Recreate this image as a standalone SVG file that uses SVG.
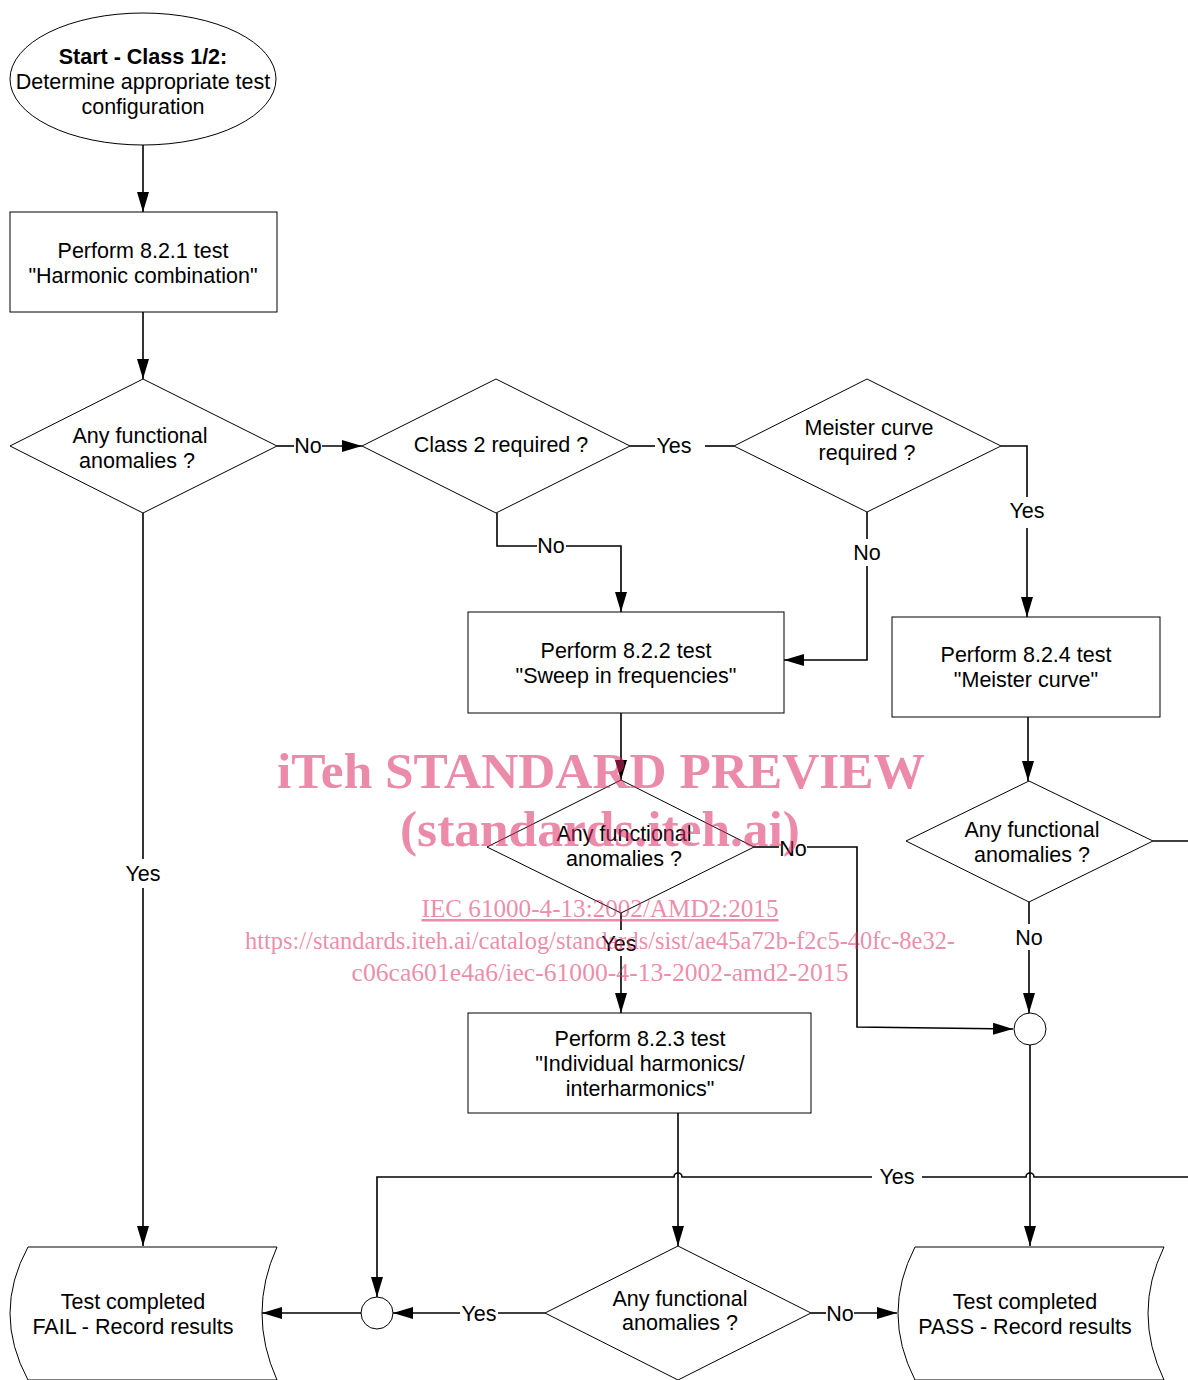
<svg xmlns="http://www.w3.org/2000/svg" width="1188" height="1380" viewBox="0 0 1188 1380">
<defs>
<marker id="arr" markerWidth="20" markerHeight="12" refX="20" refY="6" orient="auto" markerUnits="userSpaceOnUse"><path d="M0,0 L20,6 L0,12 z" fill="#000"/></marker>
<style>
.shape{fill:#fff;stroke:#000;stroke-width:1}
.t{font-family:"Liberation Sans",Arial,sans-serif;font-size:21.5px;fill:#000;text-anchor:middle}
.b{font-weight:bold}
.c{fill:none;stroke:#000;stroke-width:1.6}
.ca{fill:none;stroke:#000;stroke-width:1.6;marker-end:url(#arr)}
.wm{font-family:"Liberation Serif","Times New Roman",serif;fill:#dc2a64;fill-opacity:0.55;text-anchor:middle}
</style>
</defs>
<rect width="1188" height="1380" fill="#fff"/>

<g id="connectors">
<path class="ca" d="M143,145 V212"/>
<path class="ca" d="M143,312 V379"/>
<path class="c" d="M277,446 H294"/>
<path class="ca" d="M322,446 H362"/>
<path class="c" d="M630,446 H655"/>
<path class="c" d="M705,446 H734"/>
<path class="c" d="M1001,446 H1027 V497"/>
<path class="ca" d="M1027,528 V617"/>
<path class="c" d="M867,512 V539"/>
<path class="ca" d="M867,566 V660 H784"/>
<path class="c" d="M497,513 V546 H537"/>
<path class="ca" d="M566,546 H621 V612"/>
<path class="ca" d="M621,713 V780"/>
<path class="c" d="M754,847 H779"/>
<path class="ca" d="M807,847 H857 V1027 L1013,1029"/>
<path class="c" d="M621,913 V930"/>
<path class="ca" d="M621,956 V1013"/>
<path class="ca" d="M1028,717 V781"/>
<path class="c" d="M1153,841 H1188"/>
<path class="c" d="M1029,902 V924"/>
<path class="ca" d="M1029,950 V1013"/>
<path class="ca" d="M1030,1045 V1246"/>
<path class="c" d="M1188,1177 H1034 a4,4 0 0 0 -8,0 H922"/>
<path class="ca" d="M872,1177 H682 a4,4 0 0 0 -8,0 H377 V1297"/>
<path class="ca" d="M678,1113 V1246"/>
<path class="c" d="M545,1313 H498"/>
<path class="ca" d="M460,1313 H393"/>
<path class="ca" d="M361,1313 H262"/>
<path class="c" d="M811,1313 H826"/>
<path class="ca" d="M854,1313 H897"/>
<path class="c" d="M143,513 V859"/>
<path class="ca" d="M143,888 V1246"/>
<text class="t" x="308" y="453">No</text>
<text class="t" x="674" y="453">Yes</text>
<text class="t" x="1027" y="518">Yes</text>
<text class="t" x="867" y="560">No</text>
<text class="t" x="551" y="553">No</text>
<text class="t" x="793" y="856">No</text>
<text class="t" x="619" y="951">Yes</text>
<text class="t" x="143" y="881">Yes</text>
<text class="t" x="1029" y="945">No</text>
<text class="t" x="897" y="1184">Yes</text>
<text class="t" x="479" y="1321">Yes</text>
<text class="t" x="840" y="1321">No</text>
</g>

<g id="start">
<ellipse class="shape" cx="143" cy="79" rx="133" ry="66"/>
<text class="t b" x="143" y="64">Start - Class 1/2:</text>
<text class="t" x="143" y="89">Determine appropriate test</text>
<text class="t" x="143" y="114">configuration</text>
</g>

<g id="test821">
<rect class="shape" x="10" y="212" width="267" height="100"/>
<text class="t" x="143" y="258">Perform 8.2.1 test</text>
<text class="t" x="143" y="283">"Harmonic combination"</text>
</g>

<g id="anomalies1">
<path class="shape" d="M143,379 L277,446 L143,513 L10,446 Z"/>
<text class="t" x="140" y="443">Any functional</text>
<text class="t" x="137" y="468">anomalies ?</text>
</g>

<g id="class2">
<path class="shape" d="M496,379 L630,446 L496,513 L362,446 Z"/>
<text class="t" x="501" y="452">Class 2 required ?</text>
</g>

<g id="meister">
<path class="shape" d="M867,379 L1001,446 L867,512 L734,446 Z"/>
<text class="t" x="869" y="435">Meister curve</text>
<text class="t" x="867" y="460">required ?</text>
</g>

<g id="test822">
<rect class="shape" x="468" y="612" width="316" height="101"/>
<text class="t" x="626" y="658">Perform 8.2.2 test</text>
<text class="t" x="626" y="683">"Sweep in frequencies"</text>
</g>

<g id="test824">
<rect class="shape" x="892" y="617" width="268" height="100"/>
<text class="t" x="1026" y="662">Perform 8.2.4 test</text>
<text class="t" x="1026" y="687">"Meister curve"</text>
</g>

<g id="anomalies2">
<path class="shape" d="M621,780 L754,847 L621,913 L487,847 Z"/>
<text class="t" x="624" y="841">Any functional</text>
<text class="t" x="624" y="866">anomalies ?</text>
</g>

<g id="anomalies4">
<path class="shape" d="M1029,781 L1153,841 L1029,902 L906,841 Z"/>
<text class="t" x="1032" y="837">Any functional</text>
<text class="t" x="1032" y="862">anomalies ?</text>
</g>

<g id="junction1">
<circle class="shape" cx="1030" cy="1029" r="16"/>
</g>

<g id="test823">
<rect class="shape" x="468" y="1013" width="343" height="100"/>
<text class="t" x="640" y="1046">Perform 8.2.3 test</text>
<text class="t" x="640" y="1071">"Individual harmonics/</text>
<text class="t" x="640" y="1096">interharmonics"</text>
</g>

<g id="anomalies3">
<path class="shape" d="M678,1246 L811,1313 L678,1380 L545,1313 Z"/>
<text class="t" x="680" y="1306">Any functional</text>
<text class="t" x="680" y="1330">anomalies ?</text>
</g>

<g id="junction2">
<circle class="shape" cx="377" cy="1313" r="16"/>
</g>

<g id="fail">
<path class="shape" d="M28,1247 H277 Q247,1313 277,1380 H28 Q-8,1313 28,1247 Z"/>
<text class="t" x="133" y="1309">Test completed</text>
<text class="t" x="133" y="1334">FAIL - Record results</text>
</g>

<g id="pass">
<path class="shape" d="M915,1247 H1164 Q1132,1313 1164,1380 H915 Q881,1313 915,1247 Z"/>
<text class="t" x="1025" y="1309">Test completed</text>
<text class="t" x="1025" y="1334">PASS - Record results</text>
</g>

<g id="watermark">
<text class="wm" x="601" y="788" font-size="51" font-weight="bold" textLength="648" lengthAdjust="spacingAndGlyphs">iTeh STANDARD PREVIEW</text>
<text class="wm" x="600" y="846" font-size="51" font-weight="bold" textLength="400" lengthAdjust="spacingAndGlyphs">(standards.iteh.ai)</text>
<text class="wm" x="600" y="917" font-size="25" text-decoration="underline" textLength="357" lengthAdjust="spacingAndGlyphs">IEC 61000-4-13:2002/AMD2:2015</text>
<text class="wm" x="600" y="949" font-size="25" textLength="710" lengthAdjust="spacingAndGlyphs">https://standards.iteh.ai/catalog/standards/sist/ae45a72b-f2c5-40fc-8e32-</text>
<text class="wm" x="600" y="981" font-size="25" textLength="497" lengthAdjust="spacingAndGlyphs">c06ca601e4a6/iec-61000-4-13-2002-amd2-2015</text>
</g>
</svg>
